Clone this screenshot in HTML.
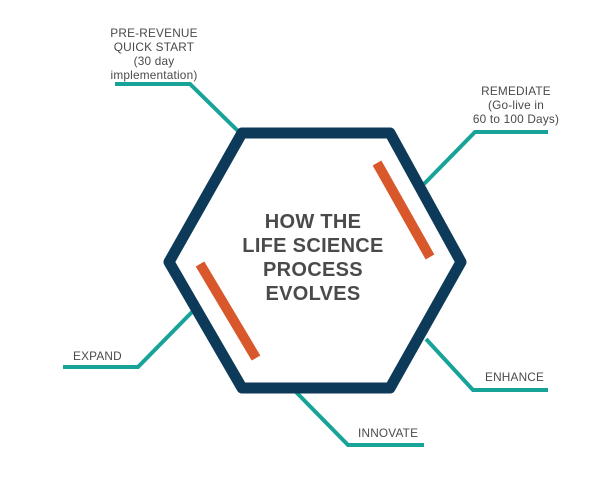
<!DOCTYPE html>
<html><head><style>
body{margin:0;background:#fff;}
svg text{font-family:"Liberation Sans",sans-serif;fill:#4a4a4a;}
</style></head><body>
<svg width="600" height="478" viewBox="0 0 600 478" xmlns="http://www.w3.org/2000/svg">
<g fill="none" stroke="#17a398" stroke-width="4">
<polyline points="115,84 190,84 240,133"/>
<polyline points="424,184 475,132 548,132"/>
<polyline points="426,339 473,390 548,390"/>
<polyline points="296,392 348,445 424,445"/>
<polyline points="192,312 138,367 63,367"/>
</g>
<polygon points="242,133 390,133 461,262 390,388 242,388 169,262" fill="#fff" stroke="#0d3a59" stroke-width="11" stroke-linejoin="round"/>
<g stroke="#d9582b" stroke-width="10">
<line x1="377" y1="163" x2="430" y2="257"/>
<line x1="200" y1="264" x2="256" y2="358"/>
</g>
<g font-weight="bold" font-size="20" text-anchor="middle" fill="#4a4a4a" letter-spacing="0.3">
<text x="313" y="228">HOW THE</text>
<text x="313" y="252">LIFE SCIENCE</text>
<text x="313" y="276">PROCESS</text>
<text x="313" y="300">EVOLVES</text>
</g>
<g font-size="11.8" text-anchor="middle" letter-spacing="0.2">
<text x="154" y="37">PRE-REVENUE</text>
<text x="154" y="51">QUICK START</text>
<text x="154" y="65">(30 day</text>
<text x="154" y="79">implementation)</text>
<text x="516" y="95">REMEDIATE</text>
<text x="516" y="109">(Go-live in</text>
<text x="516" y="123">60 to 100 Days)</text>
</g>
<g font-size="11.8" letter-spacing="0.2">
<text x="73" y="360">EXPAND</text>
<text x="485" y="381">ENHANCE</text>
<text x="358" y="437">INNOVATE</text>
</g>
</svg>
</body></html>
